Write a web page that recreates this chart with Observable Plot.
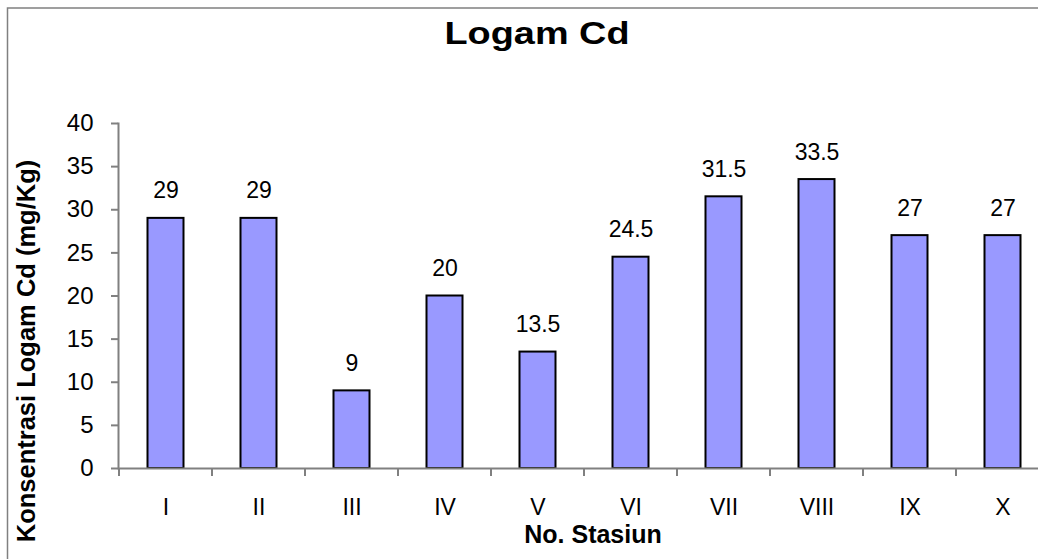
<!DOCTYPE html>
<html>
<head>
<meta charset="utf-8">
<script src="https://cdn.jsdelivr.net/npm/d3@7"></script>
<script src="https://cdn.jsdelivr.net/npm/@observablehq/plot@0.6"></script>
<style>
  html, body { margin: 0; padding: 0; background: #fff; overflow: hidden; }
  #chart { width: 1038px; height: 559px; }
</style>
</head>
<body>
<div id="chart"></div>
<script>
const categories = ["I", "II", "III", "IV", "V", "VI", "VII", "VIII", "IX", "X"];
const values = [29, 29, 9, 20, 13.5, 24.5, 31.5, 33.5, 27, 27];
const yTicks = [0, 5, 10, 15, 20, 25, 30, 35, 40];
const titleText = "Logam Cd";
const xTitle = "No. Stasiun";
const yTitle = "Konsentrasi Logam Cd (mg/Kg)";

const data = categories.map((c, i) => ({station: c, value: values[i]}));
const FONT = "'Liberation Sans', Arial, sans-serif";
const GRAY = "#808080";

const plot = Plot.plot({
  width: 1038,
  height: 559,
  marginTop: 123,
  marginBottom: 91,
  marginLeft: 118,
  marginRight: 0,
  style: {fontFamily: FONT, background: "white", color: "black", overflow: "visible"},
  x: {domain: categories, range: [118, 1049], padding: 0},
  y: {domain: [0, 40], range: [468, 123]},
  marks: [
    Plot.barY(data, {x: "station", y: "value", fill: "#9999FF", stroke: "black", strokeWidth: 2, insetLeft: 28.5, insetRight: 28.5}),
    Plot.text(data, {x: "station", y: "value", text: d => String(d.value), dy: -20, lineAnchor: "bottom", fontSize: 23, fill: "black"}),
    Plot.ruleY([0], {stroke: GRAY, strokeWidth: 2}),
    Plot.frame({anchor: "left", stroke: GRAY, strokeWidth: 2}),
    Plot.axisY({ticks: yTicks, tickSize: 7, tickPadding: 18, fontSize: 24, label: null, stroke: GRAY, strokeWidth: 2}),
    Plot.axisX({tickSize: 0, tickPadding: 30.5, fontSize: 23, label: null})
  ]
});

document.getElementById("chart").appendChild(plot);

const svg = d3.select(plot);
const sx = plot.scale("x");

// tick marks at category boundaries on the x axis
const boundaries = categories.map(c => sx.apply(c)).concat([sx.apply(categories[categories.length - 1]) + sx.step]);
svg.append("g").selectAll("line").data(boundaries).join("line")
  .attr("x1", d => d).attr("x2", d => d)
  .attr("y1", 468).attr("y2", 476)
  .attr("stroke", GRAY).attr("stroke-width", 2);

// outer chart border
svg.append("rect")
  .attr("x", 7.5).attr("y", 8).attr("width", 1100).attr("height", 700)
  .attr("fill", "none").attr("stroke", GRAY).attr("stroke-width", 1.5);

// title
svg.append("text")
  .attr("x", 537).attr("y", 44)
  .attr("text-anchor", "middle")
  .attr("font-family", FONT).attr("font-weight", "bold").attr("font-size", 32)
  .attr("textLength", 185).attr("lengthAdjust", "spacingAndGlyphs")
  .attr("fill", "black")
  .text(titleText);

// x axis title
svg.append("text")
  .attr("x", 593).attr("y", 543)
  .attr("text-anchor", "middle")
  .attr("font-family", FONT).attr("font-weight", "bold").attr("font-size", 25)
  .attr("fill", "black")
  .text(xTitle);

// y axis title
svg.append("text")
  .attr("transform", "translate(35,351) rotate(-90)")
  .attr("text-anchor", "middle")
  .attr("font-family", FONT).attr("font-weight", "bold").attr("font-size", 25.5)
  .attr("fill", "black")
  .text(yTitle);
</script>
</body>
</html>
